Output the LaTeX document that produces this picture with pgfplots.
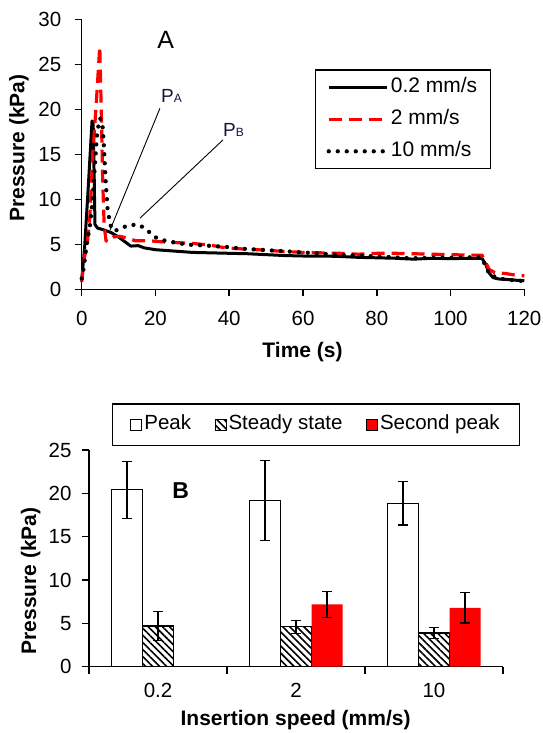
\documentclass[border=0pt]{standalone}
\usepackage{fontspec}
\setmainfont{Liberation Sans}
\usepackage{pgfplots}
\pgfplotsset{compat=1.18}
\usetikzlibrary{patterns.meta}

\definecolor{navy}{RGB}{22,22,58}

\newcommand{\tfont}{\fontsize{20.5}{24}\selectfont}
\newcommand{\lfont}{\bfseries\fontsize{21}{25}\selectfont}

\pgfplotsset{
  myaxis/.style={
    scale only axis,
    axis lines*=left,
    axis line style={line width=1.5pt},
    tick style={line width=1.5pt, black},
    major tick length=7pt,
    tick align=outside,
    tick label style={font=\tfont},
    /pgf/number format/assume math mode=true,
    clip=false,
  },
}

\begin{document}
\begin{tikzpicture}
\useasboundingbox (0pt,0pt) rectangle (543pt,-733pt);

% ---------- A: pressure vs time ----------
\begin{axis}[
  myaxis,
  at={(81.7pt,-289.3pt)}, anchor=south west,
  width=442.6pt, height=270pt,
  xmin=0, xmax=120, ymin=0, ymax=30,
  xtick={0,20,40,60,80,100,120},
  ytick={0,5,10,15,20,25,30},
  xticklabel style={yshift=-11pt},
  yticklabel style={xshift=-10pt},
  xlabel={Time (s)}, ylabel={Pressure (kPa)},
  xlabel style={font=\lfont, at={(axis description cs:0.499,-0.233)}, anchor=center},
  ylabel style={font=\lfont, at={(axis description cs:-0.1417,0.523)}, anchor=center},
  legend style={at={(axis description cs:0.527,0.815)}, anchor=north west,
    draw=black, line width=1.3pt, font=\fontsize{21}{25}\selectfont,
    inner xsep=11pt, inner ysep=5.4pt, row sep=8pt,
    nodes={inner sep=2pt, text height=15pt, text depth=5pt}},
  legend cell align=left,
  legend image code/.code={\draw[#1] (0pt,0pt) -- (58pt,0pt);},
]

% 0.2 mm/s
\addplot[black, line width=3pt, line join=round] coordinates {
  (0,1.0) (0.8,4.7) (1.8,11.5) (2.8,18.7) (3.1,18.6) (3.4,12) (3.6,7.2)
  (4.3,6.8) (6,6.6) (8,6.3) (10,5.8) (12,5.2) (13.3,4.8) (15.3,4.85)
  (17,4.6) (20,4.4) (25,4.25) (30,4.1) (35,4.05) (40,4.0) (45,3.95)
  (50,3.85) (55,3.75) (60,3.7) (65,3.7) (70,3.65) (75,3.55) (80,3.5)
  (85,3.45) (90,3.35) (95,3.45) (100,3.4) (105,3.45) (108.5,3.45)
  (109.5,2.8) (110.5,1.8) (111.5,1.3) (113,1.15) (115,1.1) (118,1.0) (120,0.95)
};
\addlegendentry{0.2 mm/s}

% 2 mm/s
\addplot[red, line width=3.2pt, dash pattern=on 13pt off 7pt] coordinates {
  (0,0.8) (0.7,3.5) (1.5,5) (2.2,8) (3.1,15.5) (4,21) (4.9,27.0)
  (5.3,20) (5.7,12) (6.1,7) (6.6,5.4) (7.2,5.3) (8.5,5.8) (10,5.9)
  (12.5,5.7) (14.5,5.4) (18,5.4) (21,5.3) (25,5.2) (30,5.1) (35,4.9)
  (39,4.6) (45,4.45) (50,4.35) (55,4.2) (60,4.1) (65,4.05) (70,4.0)
  (75,3.9) (80,4.0) (85,4.0) (90,3.95) (95,3.9) (100,3.85) (105,3.8)
  (108.5,3.8) (109.5,3.0) (110.5,2.2) (112,1.85) (115,1.75) (118,1.55) (120,1.5)
};
\addlegendentry{2 mm/s}

% 10 mm/s
\addplot[black, line width=4.3pt, line cap=round, dash pattern=on 0pt off 9pt] coordinates {
  (0,1.2) (0.6,2.5) (1.25,4.7) (2.2,7.0) (3.0,10) (3.6,14) (4.2,17.5)
  (5.0,19) (5.6,18.5) (6.0,16) (6.5,12) (7.0,9) (7.6,7.5) (8.2,6.6)
  (9,6.5) (10.3,6.7) (12.5,7.1) (15.3,7.2) (17.5,6.7) (19.4,5.9)
  (21.5,5.5) (24,5.3) (26.6,5.1) (29.3,4.95) (32,4.9) (36,4.8) (39.3,4.7)
  (44,4.5) (48.3,4.4) (54,4.25) (60,4.1) (65,3.95) (70,3.85) (75,3.75)
  (80,3.65) (85,3.55) (89,3.45) (95,3.5) (100,3.5) (105,3.55) (108.3,3.55)
  (109.3,2.8) (110.6,1.6) (113.4,1.2) (116,1.05) (118.8,0.95) (120,0.9)
};
\addlegendentry{10 mm/s}

\draw[black, line width=0.9pt] (axis cs:21.2,20.1) -- (axis cs:7.7,6.6);
\draw[black, line width=0.9pt] (axis cs:38.3,16.6) -- (axis cs:15.8,7.9);
\node[anchor=base west, inner sep=0pt, text=navy] at (axis cs:21.5,20.73)
  {\fontsize{19}{22}\selectfont P\fontsize{12}{14}\selectfont A};
\node[anchor=base west, inner sep=0pt, text=navy] at (axis cs:38.3,16.96)
  {\fontsize{19}{22}\selectfont P\fontsize{12}{14}\selectfont B};
\node[anchor=base, inner sep=0pt] at (axis cs:22.8,26.8)
  {\fontsize{25}{30}\selectfont A};
\end{axis}

% ---------- B: bar chart ----------
\begin{axis}[
  myaxis,
  at={(89pt,-666.7pt)}, anchor=south west,
  width=414pt, height=216.7pt,
  xmin=-0.5, xmax=2.5, ymin=0, ymax=25,
  ytick={0,5,10,15,20,25},
  xtick={-0.5,0.5,1.5,2.5}, xticklabels={},
  extra x ticks={0,1,2}, extra x tick labels={0.2,2,10},
  extra x tick style={major tick length=0pt, xticklabel style={yshift=-13pt}},
  yticklabel style={xshift=-7pt},
  ybar=0pt, bar width=31pt,
  xlabel={Insertion speed (mm/s)}, ylabel={Pressure (kPa)},
  xlabel style={font=\lfont, at={(axis description cs:0.499,-0.246)}, anchor=center},
  ylabel style={font=\lfont, at={(axis description cs:-0.1406,0.396)}, anchor=center},
  legend style={at={(axis description cs:0.0548,1.2155)}, anchor=north west,
    draw=black, line width=1.3pt, font=\tfont, legend columns=3,
    inner xsep=18pt, inner ysep=9pt,
    nodes={inner sep=2pt, text height=15pt, text depth=4.5pt},
    /tikz/every even column/.append style={column sep=21.5pt}},
  legend image code/.code={\draw[#1, line width=1pt] (0pt,-5.5pt) rectangle (11pt,5.5pt);},
  error bars/error bar style={line width=1.2pt, black},
  error bars/error mark options={rotate=90, mark size=4.6pt, line width=1.2pt, black},
]

\addplot[fill=white, draw=black, line width=1.2pt,
  error bars/.cd, y dir=both, y explicit] coordinates {
  (0,20.4) +- (0,3.3)
  (1,19.15) +- (0,4.6)
  (2,18.85) +- (0,2.5)
};
\addlegendentry{Peak}

\addplot[pattern={Lines[angle=-45,distance=5pt,line width=1.6pt]}, pattern color=black,
  draw=black, line width=1.2pt,
  error bars/.cd, y dir=both, y explicit] coordinates {
  (0,4.7) +- (0,1.7)
  (1,4.6) +- (0,0.75)
  (2,3.9) +- (0,0.65)
};
\addlegendentry{Steady state}

\addplot[fill=red, draw=none,
  error bars/.cd, y dir=both, y explicit] coordinates {
  (1,7.2) +- (0,1.5)
  (2,6.8) +- (0,1.75)
};
\addlegendentry{Second peak}

\node[anchor=base, inner sep=0pt] at (axis cs:0.165,19.43)
  {\bfseries\fontsize{23}{28}\selectfont B};
\end{axis}
\end{tikzpicture}
\end{document}
